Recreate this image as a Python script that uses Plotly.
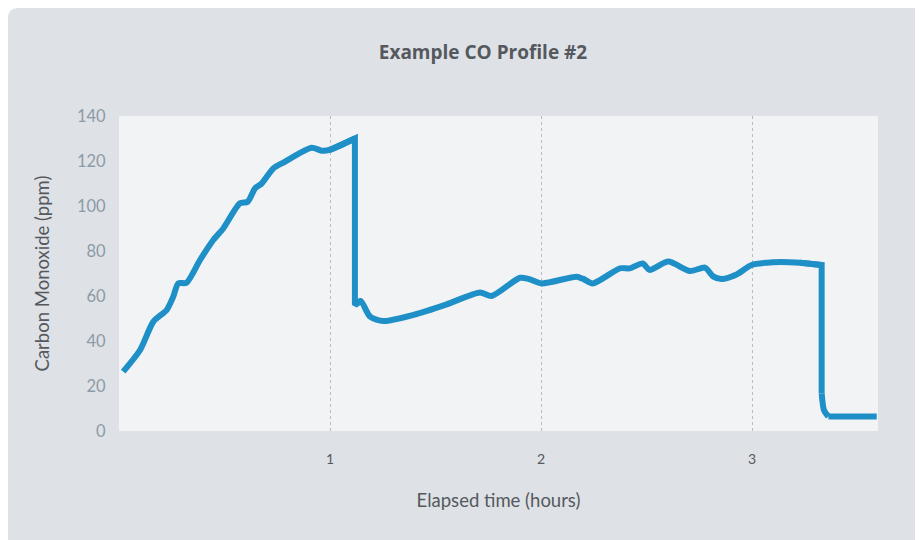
import plotly.graph_objects as go

# Elapsed time (hours) and CO readings (ppm)
time_hours = [0.02, 0.10, 0.163, 0.226, 0.257, 0.281, 0.32, 0.384, 0.447, 0.494,
              0.573, 0.61, 0.645, 0.676, 0.731, 0.779, 0.913, 0.96, 1.0, 1.118,
              1.118, 1.145, 1.19, 1.253, 1.395, 1.553, 1.711, 1.766, 1.9, 1.94,
              2.003, 2.169, 2.2, 2.245, 2.374, 2.42, 2.482, 2.514, 2.603, 2.706,
              2.777, 2.817, 2.856, 2.927, 2.998, 3.1, 3.227, 3.33, 3.33, 3.341,
              3.362, 3.591]
co_ppm = [26.4, 36.0, 48.6, 53.8, 59.7, 65.6, 65.9, 76.0, 84.9, 90.0,
          101.2, 101.9, 107.9, 110.0, 116.7, 119.3, 125.9, 124.6, 125.0, 130.0,
          56.0, 57.8, 50.8, 48.9, 51.6, 56.3, 61.6, 60.0, 68.1, 67.6,
          65.6, 68.6, 67.6, 65.6, 72.3, 72.3, 74.5, 71.6, 75.3, 71.1,
          72.6, 68.6, 67.6, 69.6, 73.8, 75.0, 74.8, 73.8, 16.7, 9.3,
          6.4, 6.4]

x_tick_vals = [1, 2, 3]
y_tick_vals = [0, 20, 40, 60, 80, 100, 120, 140]

LINE_COLOR = "#1e8fc7"
LINE_W = 6

# (first index, last index, line shape): smooth stretches and the abrupt drops
pieces = [
    (0, 19, "spline"),
    (18, 21, "linear"),
    (20, 47, "spline"),
    (46, 48, "linear"),
    (48, 50, "spline"),
    (50, 51, "linear"),
]

fig = go.Figure()
for a, b, shape in pieces:
    line = dict(color=LINE_COLOR, width=LINE_W, shape=shape)
    if shape == "spline":
        line["smoothing"] = 0.7
    fig.add_trace(go.Scatter(
        x=time_hours[a:b + 1], y=co_ppm[a:b + 1], mode="lines",
        line=line, hoverinfo="x+y", showlegend=False,
    ))

W, H = 923, 540
L, R, T, B = 111, 53, 108, 117
pw, ph = W - L - R, H - T - B

def px2paper_x(px):
    return (px - L) / pw

def py2paper_y(py):
    return (H - B - py) / ph

# rounded grey card filling the figure
x0, x1 = px2paper_x(0), px2paper_x(W + 20)
y1, y0 = py2paper_y(0), py2paper_y(H + 20)
rx = 10 / pw
ry = 10 / ph
card_path = (f"M {x0+rx},{y1} L {x1},{y1} L {x1},{y0} L {x0},{y0} L {x0},{y1-ry} "
             f"Q {x0},{y1} {x0+rx},{y1} Z")

fig.update_layout(
    width=W, height=H,
    margin=dict(l=L, r=R, t=T, b=B),
    paper_bgcolor="white",
    plot_bgcolor="rgba(0,0,0,0)",
    font=dict(family="Lato, Roboto, sans-serif", color="#555a5f"),
    title=dict(text="Example CO Profile #2", x=475 / W, xref="container",
               xanchor="center", y=1 - 44 / H, yanchor="middle", yref="container",
               font=dict(family="Open Sans, sans-serif", size=19, weight=700, color="#55595e")),
    shapes=[
        dict(type="path", xref="paper", yref="paper", path=card_path,
             fillcolor="#dee1e5", line=dict(width=0), layer="below"),
        dict(type="rect", xref="paper", yref="paper", x0=0, x1=1, y0=0, y1=1,
             fillcolor="#f1f3f5", line=dict(width=0), layer="below"),
    ],
    xaxis=dict(range=[0, 3.597], tickvals=x_tick_vals, ticktext=[str(v) for v in x_tick_vals],
               showgrid=True, gridcolor="#b5bcc3", griddash="dot", gridwidth=1,
               zeroline=False, showline=False, ticks="outside", ticklen=15,
               tickcolor="rgba(0,0,0,0)",
               tickfont=dict(size=14, color="#55595e"),
               title=dict(text="Elapsed time (hours)", font=dict(size=18.5, color="#55595e"), standoff=28)),
    yaxis=dict(range=[0, 140], tickvals=y_tick_vals, showgrid=False, zeroline=False,
               showline=False, ticks="outside", ticklen=9, tickcolor="rgba(0,0,0,0)",
               tickfont=dict(size=16.5, color="#8c9ba7"),
               title=dict(text="Carbon Monoxide (ppm)", font=dict(size=18.5, color="#55595e"), standoff=22)),
)

fig.write_html("out.html")
